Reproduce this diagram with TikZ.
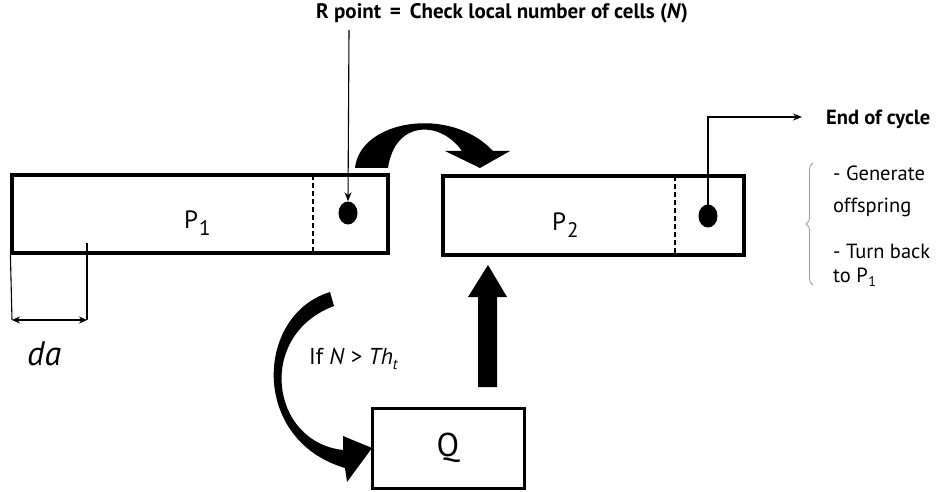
\documentclass[tikz,border=0pt]{standalone}
\usepackage{fontspec}
\setmainfont{PT Sans}
\usetikzlibrary{arrows.meta,shapes.geometric,decorations.pathreplacing}
\newcommand{\lowsub}[2]{\raisebox{-#2}{#1}}
\begin{document}
\begin{tikzpicture}[x=1pt,y=-1pt,
  box/.style={draw,line width=3.2pt,inner sep=0pt},
  dot/.style={fill,ellipse,minimum width=19pt,minimum height=23pt,inner sep=0pt},
  thinline/.style={line width=1.1pt},
  sep/.style={line width=1.1pt,dash pattern=on 5pt off 3pt},
  tip/.style={-{Stealth[length=9pt,width=7pt]}},
  bigarrow/.style={fill=black},
  txt/.style={inner sep=0pt,anchor=base west},
  side/.style={txt,font=\fontsize{20.5}{22}\selectfont}]
\useasboundingbox (0,0) rectangle (940,492);
% boxes
\node[box,minimum width=376pt,minimum height=78pt] (p1) at (200,214) {};
\node[box,minimum width=301pt,minimum height=79pt] (p2) at (593.5,215.5) {};
\node[box,line width=3pt,minimum width=152pt,minimum height=80pt,font=\fontsize{33}{36}\selectfont] (q) at (448,448) {Q};
% separators
\coordinate (s1t) at (313,175); \coordinate (s1b) at (313,253);
\coordinate (s2t) at (675,176); \coordinate (s2b) at (675,255);
\draw[sep] (s1t) -- (s1b);
\draw[sep] (s2t) -- (s2b);
% labels in boxes
\node[txt,font=\fontsize{25}{28}\selectfont] (p1l) at (184,228) {P\kern1pt\lowsub{\fontsize{21}{22}\selectfont 1}{7pt}};
\node[txt,font=\fontsize{25}{28}\selectfont] (p2l) at (552,230) {P\kern1pt\lowsub{\fontsize{21}{22}\selectfont 2}{7pt}};
% dots
\node[dot] (d1) at (348,213) {};
\node[dot] (d2) at (708,216) {};
% R point
\node[txt,font=\bfseries\fontsize{21}{24}\selectfont] (rp) at (316,19) {R point \,=\, Check local number of cells (\textit{N})};
\coordinate (rtop) at (349,30);
\draw[thinline,tip] (rtop) -- (d1.north);
% end of cycle
\node[txt,font=\bfseries\fontsize{20.5}{22}\selectfont] (eoc) at (826,125) {End of cycle};
\coordinate (eocend) at (802,117);
\draw[thinline,tip] (d2.center) |- (eocend);
% brace and side text
\coordinate (bb) at (813,285); \coordinate (bt) at (813,163);
\draw[gray!80,line width=0.8pt,decorate,decoration={brace,amplitude=7pt}] (bb) -- (bt);
\node[side] (g1) at (833,180) {- Generate};
\node[side] (g2) at (833,212) {offspring};
\node[side] (g3) at (833,258) {- Turn back};
\node[side] (g4) at (833,282) {to P\kern0.5pt\lowsub{\fontsize{14}{15}\selectfont 1}{4pt}};
% da dimension
\coordinate (a1) at (12,320); \coordinate (a2t) at (87,243); \coordinate (a2) at (87,320);
\draw[thinline] (p1.south west) -- (a1);
\draw[thinline] (a2t) -- (a2);
\draw[thinline,{Stealth[length=8pt,width=7pt]}-{Stealth[length=8pt,width=7pt]}] (a1) -- (a2);
\node[txt,font=\itshape\fontsize{34}{36}\selectfont] (da) at (27,365) {da};
% condition text
\node[txt,font=\fontsize{23}{26}\selectfont] (cond) at (309,364) {If \textit{N} > \textit{Th}\lowsub{\fontsize{15}{16}\selectfont\textit{t}}{5pt}};
% top curved arrow P1 -> P2
\fill[bigarrow] (355,168) .. controls (360,120) and (450,105) .. (493,151)
  -- (510,151) -- (480,168) -- (445,151) -- (462,151)
  .. controls (440,120) and (395,120) .. (388,168) -- cycle;
% lower curved arrow to Q
\fill[bigarrow] (330,292) .. controls (255,315) and (250,440) .. (345,468)
  -- (347,482) -- (372,448) -- (343,436) -- (343,450)
  .. controls (270,442) and (256,335) .. (334,306) -- cycle;
% up arrow Q -> P2
\fill[bigarrow] (478,387) -- (478,297) -- (468,297) -- (488,265) -- (507,297) -- (497,297) -- (497,387) -- cycle;
\end{tikzpicture}
\end{document}
